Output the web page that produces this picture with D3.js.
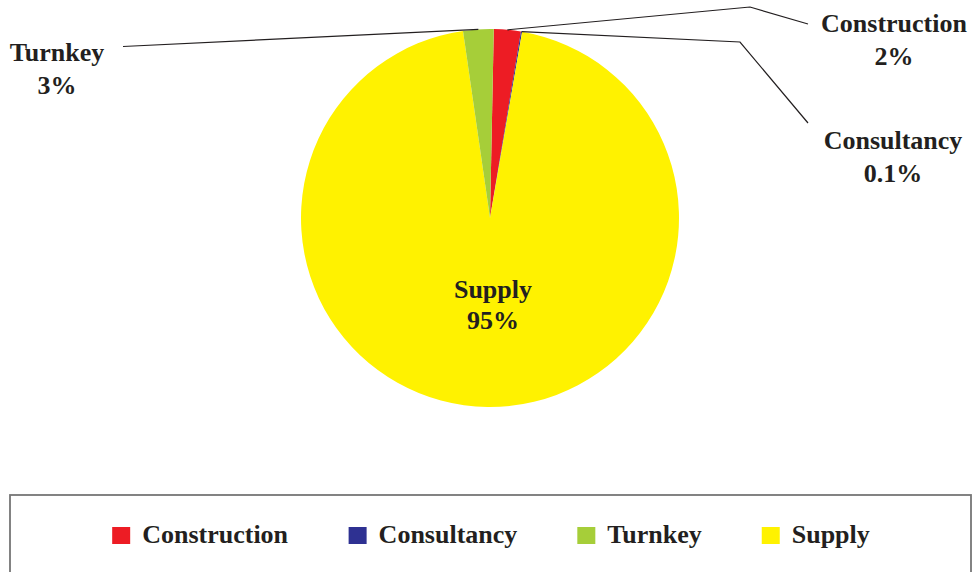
<!DOCTYPE html>
<html>
<head>
<meta charset="utf-8">
<script src="https://cdn.jsdelivr.net/npm/d3@7"></script>
<style>
  body { margin: 0; background: #fff; }
  text { font-family: "Liberation Serif", "DejaVu Serif", serif; font-weight: bold; fill: #231f20; }
</style>
</head>
<body>
<div id="viz"></div>
<script>
// legend order
var categories = ['Construction', 'Consultancy', 'Turnkey', 'Supply'];
var shares = [2.3, 0.1, 2.6, 95.0];
var shareLabels = ['2%', '0.1%', '3%', '95%'];
var colorList = ['#ed1c24', '#2e3192', '#a6ce39', '#fff200'];
// order the slices run clockwise from 12 o'clock
var pieOrder = ['Construction', 'Consultancy', 'Supply', 'Turnkey'];

var width = 976,
    height = 572,
    cx = 490,
    cy = 218,
    radius = 189,
    startOffset = 0.02;

var color = d3.scaleOrdinal().domain(categories).range(colorList);

var rows = pieOrder.map(function(name) {
  var i = categories.indexOf(name);
  return { name: name, value: shares[i], label: shareLabels[i] };
});

var svg = d3.select('#viz').append('svg')
  .attr('width', width)
  .attr('height', height);

var pie = d3.pie()
  .sort(null)
  .value(function(d) { return d.value; })
  .startAngle(startOffset)
  .endAngle(startOffset + 2 * Math.PI);

var arc = d3.arc().innerRadius(0).outerRadius(radius);
var edgeArc = d3.arc().innerRadius(radius).outerRadius(radius);

var g = svg.append('g').attr('transform', 'translate(' + cx + ',' + cy + ')');
var arcs = pie(rows);

g.selectAll('path').data(arcs)
  .enter().append('path')
    .attr('d', arc)
    .style('fill', function(d) { return color(d.data.name); });

// outside labels: elbow + text anchor (absolute page coords)
var callouts = {
  Construction: { bends: [[750, 7], [808, 24]], text: [894, 32] },
  Consultancy: { bends: [[740, 42], [808, 123]], text: [893, 149] },
  Turnkey: { bends: [[123, 46.5]], text: [57, 61] }
};

var lineGen = d3.line();
arcs.forEach(function(d) {
  var c = callouts[d.data.name];
  if (!c) return;
  var p = edgeArc.centroid(d);
  var pts = [[p[0] + cx, p[1] + cy]].concat(c.bends);
  svg.append('path')
    .attr('d', lineGen(pts))
    .style('fill', 'none')
    .style('stroke', '#231f20')
    .style('stroke-width', 1.2);
  var t = svg.append('text')
    .attr('x', c.text[0])
    .attr('y', c.text[1])
    .attr('text-anchor', 'middle')
    .style('font-size', '26px');
  t.append('tspan').attr('x', c.text[0]).text(d.data.name);
  t.append('tspan').attr('x', c.text[0]).attr('dy', 33).text(d.data.label);
});

// inside label for the big slice
arcs.filter(function(d) { return !callouts[d.data.name]; }).forEach(function(d) {
  var t = svg.append('text')
    .attr('text-anchor', 'middle')
    .attr('x', cx + 3)
    .attr('y', 298)
    .style('font-size', '26px');
  t.append('tspan').attr('x', cx + 3).text(d.data.name);
  t.append('tspan').attr('x', cx + 3).attr('dy', 31).text(d.data.label);
});

// legend box
svg.append('rect')
  .attr('x', 10)
  .attr('y', 495)
  .attr('width', 961)
  .attr('height', 90)
  .style('fill', 'none')
  .style('stroke', '#767676')
  .style('stroke-width', 1.8);

var legend = svg.append('g');
var items = legend.selectAll('g').data(categories)
  .enter().append('g');

items.append('rect')
  .attr('width', 18)
  .attr('height', 17)
  .attr('y', 527)
  .style('fill', function(d) { return color(d); });

items.append('text')
  .attr('x', 30)
  .attr('y', 543)
  .style('font-size', '26px')
  .text(function(d) { return d; });

var gap = 60;
var xPos = 0;
items.each(function() {
  var w = this.getBBox().width;
  d3.select(this).attr('transform', 'translate(' + xPos + ',0)');
  xPos += w + gap;
});
var total = xPos - gap;
legend.attr('transform', 'translate(' + (491 - total / 2) + ',0)');
</script>
</body>
</html>
